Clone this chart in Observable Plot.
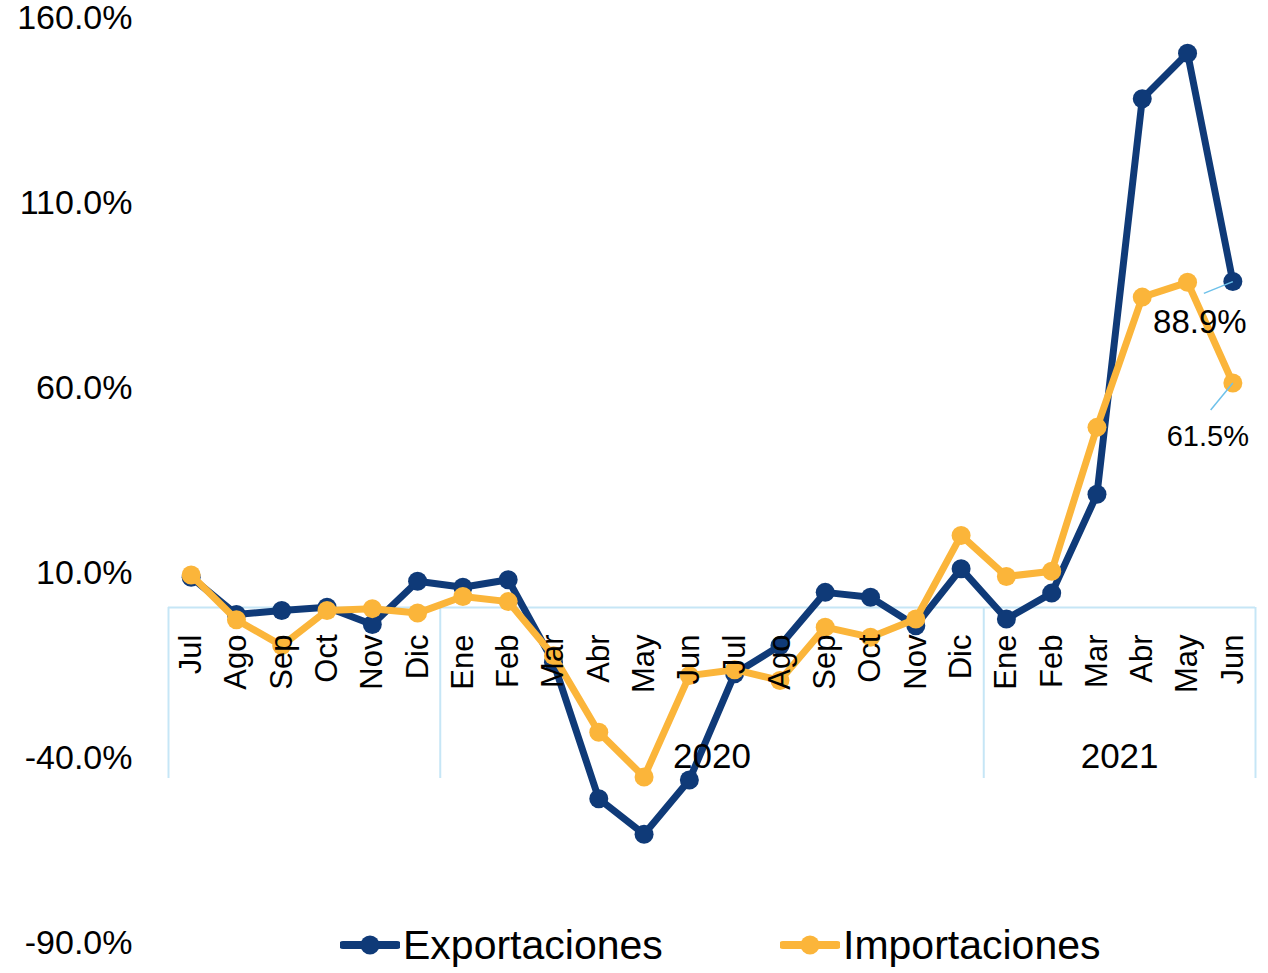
<!DOCTYPE html>
<html>
<head>
<meta charset="utf-8">
<script src="https://cdn.jsdelivr.net/npm/d3@7"></script>
<script src="https://cdn.jsdelivr.net/npm/@observablehq/plot@0.6"></script>
<style>
  html, body { margin: 0; padding: 0; background: #fff; }
  #wrap { position: relative; width: 1268px; height: 973px; font-family: "Liberation Sans", Arial, sans-serif; }
  #chart svg { display: block; }
  .leg { position: absolute; top: 920px; height: 50px; display: flex; align-items: center; font-size: 41px; color: #000; line-height: 50px; }
  .leg svg { display: block; margin-right: 3px; }
</style>
</head>
<body>
<div id="wrap">
  <div id="chart"></div>
</div>
<script>
// ---- data ----
const months = ["Jul","Ago","Sep","Oct","Nov","Dic","Ene","Feb","Mar","Abr","May","Jun",
                "Jul","Ago","Sep","Oct","Nov","Dic","Ene","Feb","Mar","Abr","May","Jun"];
const exportaciones = [9.0,-1.1,0.0,0.9,-3.8,7.9,6.3,8.3,-14.0,-50.9,-60.5,-45.8,
                       -17.1,-9.5,4.9,3.6,-4.1,11.3,-2.3,4.7,31.4,138.3,150.6,88.9];
const importaciones = [9.6,-2.5,-9.5,0.0,0.5,-0.7,3.8,2.4,-12.2,-32.9,-45.0,-17.6,
                       -16.0,-18.9,-4.5,-7.2,-2.3,20.3,9.2,10.6,49.5,84.7,88.7,61.5];
const yearLabels = ["", "2020", "2021"];
const yearStart = [0, 6, 18];
const yearEnd = [5, 17, 23];
const yTicks = [-90, -40, 10, 60, 110, 160];
const seriesNames = ["Exportaciones", "Importaciones"];
const seriesColors = ["#0f3a78", "#fbb53a"];

// ---- tables ----
const expData = exportaciones.map((v, i) => ({i, v, m: months[i]}));
const impData = importaciones.map((v, i) => ({i, v, m: months[i]}));
const groups = yearLabels.map((label, k) => ({label, s: yearStart[k], e: yearEnd[k], c: (yearStart[k] + yearEnd[k]) / 2}));
const bounds = [yearStart[0] - 0.5, ...yearEnd.map(e => e + 0.5)];
const last = exportaciones.length - 1;
const endLabels = [
  {i: last, v: exportaciones[last], t: exportaciones[last].toFixed(1) + "%", dx: -33, dy: 41, fs: 33, lx: -0.64, ly: -3.2},
  {i: last, v: importaciones[last], t: importaciones[last].toFixed(1) + "%", dx: -25, dy: 54, fs: 29, lx: -0.49, ly: -7.3}
];

const font = "Liberation Sans, Arial, sans-serif";
const boxColor = "#c6e6f6";

const plot = Plot.plot({
  width: 1268,
  height: 973,
  marginTop: 18,
  marginBottom: 30,
  marginLeft: 168,
  marginRight: 13,
  style: {fontFamily: font, background: "#fff", overflow: "visible"},
  x: {type: "linear", domain: [-0.5, 23.5], axis: null},
  y: {domain: [-90, 160], axis: null},
  marks: [
    // grouped category axis box
    Plot.ruleY([0], {x1: bounds[0], x2: bounds[bounds.length - 1], stroke: boxColor, strokeWidth: 2, dy: -3}),
    Plot.ruleX(bounds, {x: d => d, y1: 0, y2: 0, insetTop: -3, insetBottom: -168, stroke: boxColor, strokeWidth: 2}),
    // y axis
    Plot.axisY(yTicks, {label: null, tickSize: 0, tickPadding: 36, fontSize: 34, tickFormat: d => d.toFixed(1) + "%", fill: "#000", textAnchor: "end"}),
    // series
    Plot.line(expData, {x: "i", y: "v", stroke: seriesColors[0], strokeWidth: 7, strokeLinejoin: "round"}),
    Plot.dot(expData, {x: "i", y: "v", r: 9.5, fill: seriesColors[0]}),
    Plot.line(impData, {x: "i", y: "v", stroke: seriesColors[1], strokeWidth: 7, strokeLinejoin: "round"}),
    Plot.dot(impData, {x: "i", y: "v", r: 9.5, fill: seriesColors[1]}),
    // month labels
    Plot.text(expData, {x: "i", y: () => 0, text: "m", rotate: -90, textAnchor: "end", dy: 24, fontSize: 31, fill: "#000"}),
    // year labels
    Plot.text(groups, {x: "c", y: () => 0, text: "label", dy: 146, fontSize: 35, fill: "#000"}),
    // end labels with leader lines
    Plot.link(endLabels, {x1: "i", y1: "v", x2: d => d.i + d.lx, y2: d => d.v + d.ly, stroke: "#6ec1ea", strokeWidth: 1.5}),
    Plot.text(endLabels.slice(0, 1), {x: "i", y: "v", text: "t", dx: endLabels[0].dx, dy: endLabels[0].dy, fontSize: endLabels[0].fs, fill: "#000"}),
    Plot.text(endLabels.slice(1), {x: "i", y: "v", text: "t", dx: endLabels[1].dx, dy: endLabels[1].dy, fontSize: endLabels[1].fs, fill: "#000"})
  ]
});
document.getElementById("chart").appendChild(plot);

// legend
const wrap = document.getElementById("wrap");
const legLeft = [340, 780];
seriesNames.forEach((name, k) => {
  const div = document.createElement("div");
  div.className = "leg";
  div.style.left = legLeft[k] + "px";
  div.innerHTML = `<svg width="60" height="24"><line x1="3" y1="12" x2="57" y2="12" stroke="${seriesColors[k]}" stroke-width="8" stroke-linecap="round"/><circle cx="30" cy="12" r="9.5" fill="${seriesColors[k]}"/></svg><span>${name}</span>`;
  wrap.appendChild(div);
});
</script>
</body>
</html>
